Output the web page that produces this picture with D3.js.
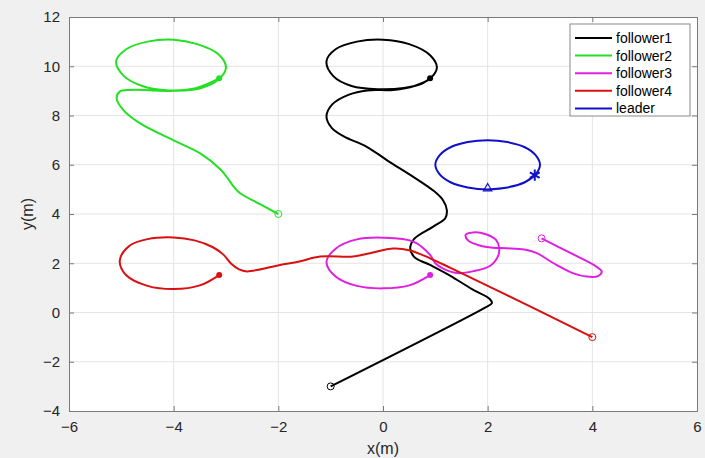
<!DOCTYPE html>
<html>
<head>
<meta charset="utf-8">
<script src="https://cdn.jsdelivr.net/npm/d3@7"></script>
<style>
  body { margin: 0; background: #fff; }
  svg text { font-family: "Liberation Sans", Arial, sans-serif; }
</style>
</head>
<body>
<svg id="chart" width="705" height="458"></svg>
<script>
// Axis ticks
const xTicks = [-6, -4, -2, 0, 2, 4, 6];
const yTicks = [-4, -2, 0, 2, 4, 6, 8, 10, 12];

// Trajectories, [x, y] in metres
const follower1 = [[-1, -3], [1.95, 0.2], [2.08, 0.38], [2.04, 0.55], [1.7, 0.95], [1.28, 1.5], [0.9, 1.93],
    [0.6, 2.25], [0.52, 2.6], [0.6, 3.0], [0.96, 3.49], [1.19, 3.83], [1.22, 4.16], [1.15, 4.55], [0.98, 4.92],
    [0.55, 5.55], [0.1, 6.15], [-0.31, 6.73], [-0.75, 7.15], [-0.98, 7.5], [-1.08, 7.95], [-0.97, 8.45],
    [-0.65, 8.85], [-0.3, 9.02], [0.2, 9.04], [0.6, 9.2], [0.9, 9.5], [1.03, 9.95], [0.9, 10.45], [0.5, 10.9],
    [0, 11.08], [-0.5, 11.0], [-0.9, 10.7], [-1.08, 10.2], [-0.95, 9.6], [-0.6, 9.2], [-0.1, 9.07], [0.4, 9.12],
    [0.75, 9.3], [0.9, 9.51]];
const follower2 = [[-2, 4], [-2.35, 4.4], [-2.73, 4.84], [-2.85, 5.1], [-2.95, 5.4], [-3.1, 5.8], [-3.5, 6.47],
    [-4.01, 7.0], [-4.64, 7.68], [-4.96, 8.22], [-5.09, 8.7], [-5.03, 8.97], [-4.83, 9.04], [-4.4, 9.02],
    [-4.0, 9.0], [-3.5, 9.1], [-3.15, 9.45], [-3.0, 9.95], [-3.15, 10.5], [-3.55, 10.9], [-4.0, 11.08],
    [-4.5, 11.0], [-4.9, 10.7], [-5.1, 10.2], [-4.95, 9.6], [-4.6, 9.2], [-4.1, 9.02], [-3.6, 9.1], [-3.13, 9.51]];
const follower3 = [[3.03, 3.01], [3.55, 2.45], [4.08, 1.86], [4.18, 1.66], [4.11, 1.48], [3.89, 1.46], [3.64, 1.59],
    [3.26, 2.0], [2.94, 2.41], [2.7, 2.56], [2.36, 2.61], [2.1, 2.63], [1.85, 2.72], [1.63, 2.92], [1.58, 3.15],
    [1.72, 3.25], [1.98, 3.17], [2.16, 2.95], [2.22, 2.62], [2.2, 2.3], [2.05, 1.9], [1.73, 1.68], [1.41, 1.6],
    [1.15, 1.78], [1.0, 2.0], [0.9, 2.34], [0.58, 2.88], [0, 3.04], [-0.5, 2.97], [-0.9, 2.6], [-1.08, 2.05],
    [-0.9, 1.45], [-0.5, 1.08], [0, 0.98], [0.5, 1.1], [0.9, 1.52]];
const follower4 = [[4, -1], [2.2, 0.88], [1.28, 1.82], [0.9, 2.2], [0.52, 2.52], [0.2, 2.6], [-0.25, 2.41],
    [-0.57, 2.27], [-1.2, 2.27], [-1.6, 2.07], [-1.97, 1.93], [-2.6, 1.67], [-2.75, 1.75],
    [-2.9, 1.98], [-3.05, 2.35], [-3.25, 2.65], [-3.6, 2.93], [-4.0, 3.05], [-4.5, 2.98], [-4.85, 2.7],
    [-5.03, 2.1], [-4.9, 1.5], [-4.5, 1.08], [-4.0, 0.95], [-3.5, 1.1], [-3.13, 1.52]];
const leader = [[2, 5], [2.38, 5.08], [2.71, 5.29], [2.92, 5.62], [3, 6], [2.92, 6.38], [2.71, 6.71], [2.38, 6.92],
    [2, 7], [1.62, 6.92], [1.29, 6.71], [1.08, 6.38], [1, 6], [1.08, 5.62], [1.29, 5.29], [1.62, 5.08], [2, 5],
    [2.38, 5.08], [2.71, 5.29], [2.9, 5.58]];

const seriesNames = ["follower1", "follower2", "follower3", "follower4", "leader"];

function drawChart() {
    const svg = d3.select("#chart"),
          width = 705, height = 458,
          margin = { top: 17, right: 8, bottom: 47, left: 69 };

    const colors = {
        follower1: "#000000",
        follower2: "#22e022",
        follower3: "#e020e0",
        follower4: "#d81010",
        leader: "#1010c8"
    };
    const series = [
        { name: "follower1", values: follower1 },
        { name: "follower2", values: follower2 },
        { name: "follower3", values: follower3 },
        { name: "follower4", values: follower4 },
        { name: "leader", values: leader }
    ];

    // figure background
    svg.append("rect").attr("width", width).attr("height", height).attr("fill", "#f0f0f0");

    const x = d3.scaleLinear().domain([-6, 6]).range([margin.left, width - margin.right]);
    const y = d3.scaleLinear().domain([-4, 12]).range([height - margin.bottom, margin.top]);

    svg.append("rect")
        .attr("x", x(-6)).attr("y", y(12))
        .attr("width", x(6) - x(-6)).attr("height", y(-4) - y(12))
        .attr("fill", "#fff");

    // grid
    svg.append("g").selectAll("line").data(xTicks.slice(1, -1)).enter().append("line")
        .attr("x1", d => x(d)).attr("x2", d => x(d))
        .attr("y1", y(-4)).attr("y2", y(12))
        .attr("stroke", "#e4e4e4").attr("stroke-width", 1);
    svg.append("g").selectAll("line").data(yTicks.slice(1, -1)).enter().append("line")
        .attr("y1", d => y(d)).attr("y2", d => y(d))
        .attr("x1", x(-6)).attr("x2", x(6))
        .attr("stroke", "#e4e4e4").attr("stroke-width", 1);

    // axes (MATLAB style, ticks inside, box on)
    const axisColor = "#7a7a7a";
    const xAxis = svg.append("g")
        .attr("transform", `translate(0,${y(-4)})`)
        .call(d3.axisBottom(x).tickValues(xTicks).tickSize(-5).tickPadding(10).tickFormat(d3.format("d")));
    const xTop = svg.append("g")
        .attr("transform", `translate(0,${y(12)})`)
        .call(d3.axisTop(x).tickValues(xTicks).tickSize(-5).tickFormat(""));
    const yAxis = svg.append("g")
        .attr("transform", `translate(${x(-6)},0)`)
        .call(d3.axisLeft(y).tickValues(yTicks).tickSize(-5).tickPadding(9).tickFormat(d3.format("d")));
    const yRight = svg.append("g")
        .attr("transform", `translate(${x(6)},0)`)
        .call(d3.axisRight(y).tickValues(yTicks).tickSize(-5).tickFormat(""));

    [xAxis, xTop, yAxis, yRight].forEach(a => {
        a.select(".domain").attr("stroke", axisColor);
        a.selectAll(".tick line").attr("stroke", axisColor);
        a.selectAll("text").attr("fill", "#262626").style("font-size", "15px")
            .style("font-family", "'Liberation Sans', Arial, sans-serif");
    });

    // axis labels
    svg.append("text")
        .attr("x", x(0)).attr("y", 454)
        .attr("text-anchor", "middle")
        .style("font-size", "16px").attr("fill", "#262626")
        .text("x(m)");
    svg.append("text")
        .attr("transform", `translate(33,${y(4)}) rotate(-90)`)
        .attr("text-anchor", "middle")
        .style("font-size", "16px").attr("fill", "#262626")
        .text("y(m)");

    // trajectories
    const line = d3.line()
        .x(d => x(d[0]))
        .y(d => y(d[1]))
        .curve(d3.curveCatmullRom.alpha(0.5));

    const plot = svg.append("g");
    plot.selectAll(".traj")
        .data(series)
        .enter().append("path")
        .attr("class", "traj")
        .attr("fill", "none")
        .attr("stroke", d => colors[d.name])
        .attr("stroke-width", 2)
        .attr("stroke-linejoin", "round")
        .attr("d", d => line(d.values));

    // start markers (open circles) for followers
    const followers = series.filter(s => s.name !== "leader");
    plot.selectAll(".start")
        .data(followers)
        .enter().append("circle")
        .attr("cx", d => x(d.values[0][0]))
        .attr("cy", d => y(d.values[0][1]))
        .attr("r", 3.5)
        .attr("fill", "none")
        .attr("stroke", d => colors[d.name])
        .attr("stroke-width", 1);

    // end markers (filled dots) for followers
    plot.selectAll(".end")
        .data(followers)
        .enter().append("circle")
        .attr("cx", d => x(d.values[d.values.length - 1][0]))
        .attr("cy", d => y(d.values[d.values.length - 1][1]))
        .attr("r", 3)
        .attr("fill", d => colors[d.name]);

    // leader start triangle and end asterisk
    const ls = leader[0], le = leader[leader.length - 1];
    plot.append("path")
        .attr("transform", `translate(${x(ls[0])},${y(ls[1]) - 1})`)
        .attr("d", d3.symbol(d3.symbolTriangle, 30)())
        .attr("fill", "none").attr("stroke", colors.leader).attr("stroke-width", 1.2);
    plot.append("path")
        .attr("transform", `translate(${x(le[0])},${y(le[1])})`)
        .attr("d", d3.symbol(d3.symbolAsterisk, 90)())
        .attr("fill", "none").attr("stroke", colors.leader).attr("stroke-width", 2);

    // legend
    const lg = svg.append("g").attr("transform", "translate(570,24)");
    lg.append("rect")
        .attr("width", 120).attr("height", 92)
        .attr("fill", "#fff").attr("stroke", "#8a8a8a").attr("stroke-width", 1);
    const items = lg.selectAll(".item")
        .data(seriesNames)
        .enter().append("g")
        .attr("transform", (d, i) => `translate(0,${14 + i * 17.6})`);
    items.append("line")
        .attr("x1", 5).attr("x2", 42)
        .attr("stroke", d => colors[d]).attr("stroke-width", 2);
    items.append("text")
        .attr("x", 46).attr("y", 5)
        .style("font-size", "14px").attr("fill", "#000")
        .text(d => d);
}

drawChart();
</script>
</body>
</html>
